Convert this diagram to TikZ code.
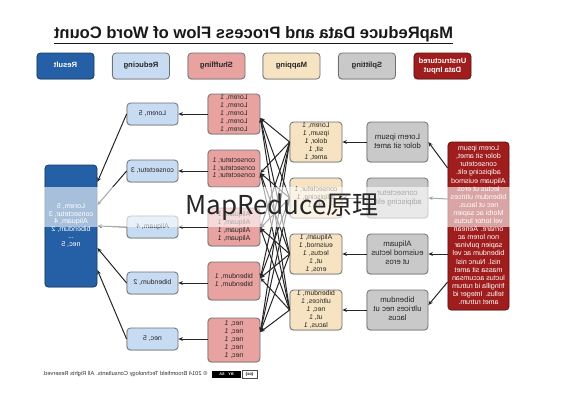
\documentclass[tikz,border=0pt]{standalone}
\usepackage{fontspec}
\setmainfont{Liberation Sans}
\newfontfamily\cjkf{Noto Sans CJK SC}
\usepackage{graphicx}
\usetikzlibrary{arrows.meta,shadows,calc}
\definecolor{resblue}{HTML}{2560A6}
\definecolor{redblue}{HTML}{C7DBF2}
\definecolor{shufpink}{HTML}{E8A3A1}
\definecolor{mapwheat}{HTML}{F6E3C1}
\definecolor{splitgray}{HTML}{C9C9C9}
\definecolor{inred}{HTML}{A01D1D}
\definecolor{edgegray}{HTML}{707070}
\newcommand\mtx[1]{\reflectbox{\begin{tabular}{@{}c@{}}#1\end{tabular}}}
\begin{document}
\begin{tikzpicture}[x=1pt,y=-1pt,
  box/.style={draw=edgegray, line width=0.8pt, rounded corners=3.5pt, inner sep=0pt, align=center, text=black!85,
    drop shadow={shadow xshift=-0.8pt, shadow yshift=-0.8pt, opacity=0.25}},
  hdr/.style={box, minimum width=57pt, minimum height=26pt, font=\fontsize{7.6}{8.6}\selectfont\bfseries},
  wbox/.style={box, font=\fontsize{6.9}{7.8}\selectfont},
  arr/.style={-{Stealth[length=4.5pt,width=3.8pt]}, line width=1pt, draw=black!85}]
\useasboundingbox (0,0) rectangle (565,400);
\fill[white] (0,0) rectangle (565,400);

% title
\node[font=\fontsize{16.6}{18}\selectfont\bfseries, text=black!90] (title) at (253.5,35)
  {\reflectbox{\underline{MapReduce Data and Process Flow of Word Count}}};

% header boxes
\node[hdr, fill=resblue, text=white, draw=resblue!60!black] (hres) at (65.5,66) {\mtx{Result}};
\node[hdr, fill=redblue] (hred) at (141,66) {\mtx{Reducing}};
\node[hdr, fill=shufpink] (hshu) at (216.5,66) {\mtx{Shuffling}};
\node[hdr, fill=mapwheat] (hmap) at (291.5,66) {\mtx{Mapping}};
\node[hdr, fill=splitgray] (hspl) at (367,66) {\mtx{Splitting}};
\node[hdr, fill=inred, text=white, draw=inred!60!black] (hin) at (442.5,66) {\mtx{Unstructured\\Data Input}};

% input
\node[box, fill=inred, text=white, draw=inred!60!black, minimum width=61pt, minimum height=168pt,
  font=\fontsize{7.1}{8.1}\selectfont] (in) at (478.5,226)
  {\mtx{Lorem ipsum\\dolor sit amet,\\consectetur\\adipiscing elit.\\Aliquam euismod\\lectus ut eros\\bibendum ultrices\\nec ut lacus.\\Morbi ac sapien\\vel tortor luctus\\ornare. Aenean\\non lorem ac\\sapien pulvinar\\bibendum ac vel\\nisl. Nunc nisl\\massa sit amet\\luctus accumsan\\fringilla id rutrum\\tellus. Integer id\\amet rutrum.}};

% splitting
\begin{scope}[every node/.style={wbox, fill=splitgray, minimum width=61pt, minimum height=40pt, font=\fontsize{7.8}{9}\selectfont}]
\node (sp1) at (397.5,142) {\mtx{Lorem ipsum\\dolor sit amet}};
\node (sp2) at (397.5,198) {\mtx{consectetur\\adipiscing elit.}};
\node (sp3) at (397.5,254) {\mtx{Aliquam\\euismod lectus\\ut eros}};
\node (sp4) at (397.5,310) {\mtx{bibendum\\ultrices nec ut\\lacus}};
\end{scope}

% mapping
\begin{scope}[every node/.style={wbox, fill=mapwheat, minimum width=52pt, minimum height=40pt}]
\node (m1) at (316,142) {\mtx{Lorem, 1\\ipsum, 1\\dolor, 1\\sit, 1\\amet, 1}};
\node (m2) at (316,198) {\mtx{consectetur, 1\\adipiscing, 1\\elit, 1}};
\node (m3) at (316,254) {\mtx{Aliquam, 1\\euismod, 1\\lectus, 1\\ut, 1\\eros, 1}};
\node (m4) at (316,310) {\mtx{bibendum, 1\\ultrices, 1\\nec, 1\\ut, 1\\lacus, 1}};
\end{scope}

% shuffling
\begin{scope}[every node/.style={wbox, fill=shufpink, minimum width=52pt}]
\node[minimum height=40pt] (s1) at (234,114) {\mtx{Lorem, 1\\Lorem, 1\\Lorem, 1\\Lorem, 1\\Lorem, 1}};
\node[minimum height=37pt] (s2) at (234,168.5) {\mtx{consectetur, 1\\consectetur, 1\\consectetur, 1}};
\node[minimum height=38pt] (s3) at (234,227) {\mtx{Aliquam, 1\\Aliquam, 1\\Aliquam, 1\\Aliquam, 1}};
\node[minimum height=38pt] (s4) at (234,281) {\mtx{bibendum, 1\\bibendum, 1}};
\node[minimum height=44pt] (s5) at (234,340) {\mtx{nec, 1\\nec, 1\\nec, 1\\nec, 1\\nec, 1}};
\end{scope}

% reducing
\begin{scope}[every node/.style={wbox, fill=redblue, minimum width=51pt, minimum height=22pt}]
\node (r1) at (152.5,114) {\mtx{Lorem, 5}};
\node (r2) at (152.5,171) {\mtx{consectetur, 3}};
\node (r3) at (152.5,227) {\mtx{Aliquam, 4}};
\node (r4) at (152.5,283) {\mtx{bibendum, 2}};
\node (r5) at (152.5,339) {\mtx{nec, 5}};
\end{scope}

% result
\node[box, fill=resblue, text=white, draw=resblue!60!black, minimum width=52pt, minimum height=122pt,
  font=\fontsize{7.1}{7.6}\selectfont] (res) at (71,226)
  {\mtx{Lorem, 5\\consectetur, 3\\Aliquam, 4\\bibendum, 2\\...\\nec, 5}};

% connectors: input -> splitting
\draw[arr] ([yshift=58pt]in.west) -- (sp1.east);
\draw[arr] ([yshift=27pt]in.west) -- (sp2.east);
\draw[arr] ([yshift=-28pt]in.west) -- (sp3.east);
\draw[arr] ([yshift=-56pt]in.west) -- ([yshift=5pt]sp4.east);

% splitting -> mapping
\foreach \i in {1,...,4} \draw[arr] (sp\i.west) -- (m\i.east);

% mapping -> shuffling
\foreach \i in {1,...,4} {
  \draw[arr] (m\i.west) -- ([yshift=-4pt]s1.east);
  \draw[arr] (m\i.west) -- ([yshift=-4.5pt]s2.east);
  \draw[arr] (m\i.west) -- ([yshift=-1pt]s3.east);
  \draw[arr] (m\i.west) -- ([yshift=3pt]s4.east);
  \draw[arr] (m\i.west) -- ([yshift=8pt]s5.east);
}

% shuffling -> reducing
\foreach \i in {1,...,5} \draw[arr] (r\i.east -| s\i.west) -- (r\i.east);

% reducing -> result
\draw[arr] (r1.west) -- ([yshift=44pt]res.east);
\draw[arr] (r2.west) -- ([yshift=21pt]res.east);
\draw[arr] (r3.west) -- (res.east);
\draw[arr] (r4.west) -- ([yshift=-22pt]res.east);
\draw[arr] (r5.west) -- ([yshift=-44pt]res.east);

% footer
\node[font=\fontsize{5.7}{6}\selectfont, text=black!80] (ft) at (125,374)
  {\reflectbox{\textcopyright{} 2014 Broomfield Technology Consultants. All Rights Reserved.}};
\node[fill=black, minimum width=29pt, minimum height=7pt, inner sep=0pt, text=white,
  font=\fontsize{3.8}{4}\selectfont\bfseries] (by) at (226.5,374) {\reflectbox{BY\quad SA}};
\node[draw=black!70, line width=0.5pt, minimum width=15pt, minimum height=8pt, inner sep=0pt,
  font=\fontsize{4.2}{4}\selectfont\bfseries] (cc) at (249.5,374) {\reflectbox{(cc)}};

% watermark band
\fill[white, opacity=0.6] (0,187) rectangle (565,227);
\node[font=\cjkf\fontsize{26}{26}\selectfont, text=black!85, inner sep=0pt] (wm) at (282,207) {MapReduce原理};
\end{tikzpicture}
\end{document}
